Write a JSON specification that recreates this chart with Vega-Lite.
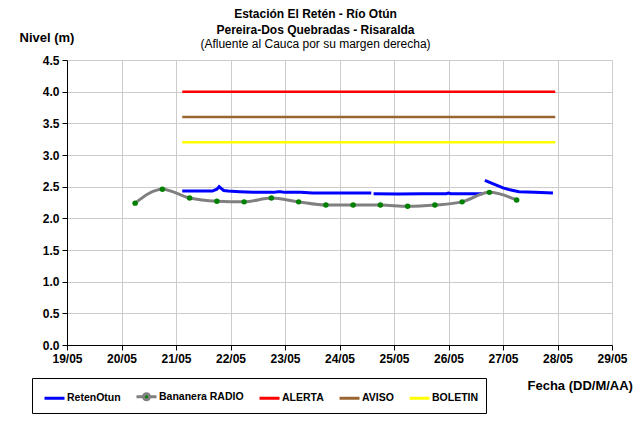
{
  "$schema": "https://vega.github.io/schema/vega-lite/v6.json",
  "width": 545,
  "height": 285,
  "autosize": {"type": "none"},
  "padding": {"left": 67, "top": 60, "right": 29, "bottom": 77},
  "background": "white",
  "title": {
    "text": ["Estación El Retén - Río Otún", "Pereira-Dos Quebradas - Risaralda"],
    "subtitle": "(Afluente al Cauca por su margen derecha)",
    "anchor": "middle",
    "dx": -24,
    "offset": -20,
    "font": "Liberation Sans",
    "fontSize": 12,
    "fontWeight": "bold",
    "color": "black",
    "lineHeight": 16,
    "subtitleFont": "Liberation Sans",
    "subtitleFontSize": 12,
    "subtitleFontWeight": "normal",
    "subtitleColor": "black",
    "subtitleLineHeight": 16,
    "subtitlePadding": 2
  },
  "data": {
    "values": [
      {"serie": "ALERTA", "seg": "a", "fecha": "2010-05-21T02:45", "nivel": 4.0},
      {"serie": "ALERTA", "seg": "a", "fecha": "2010-05-27T23:00", "nivel": 4.0},
      {"serie": "AVISO", "seg": "v", "fecha": "2010-05-21T02:45", "nivel": 3.6},
      {"serie": "AVISO", "seg": "v", "fecha": "2010-05-27T23:00", "nivel": 3.6},
      {"serie": "BOLETIN", "seg": "bo", "fecha": "2010-05-21T02:45", "nivel": 3.2},
      {"serie": "BOLETIN", "seg": "bo", "fecha": "2010-05-27T23:00", "nivel": 3.2},

      {"serie": "RetenOtun", "seg": "r1", "fecha": "2010-05-21T02:45", "nivel": 2.43},
      {"serie": "RetenOtun", "seg": "r1", "fecha": "2010-05-21T08:00", "nivel": 2.43},
      {"serie": "RetenOtun", "seg": "r1", "fecha": "2010-05-21T12:00", "nivel": 2.43},
      {"serie": "RetenOtun", "seg": "r1", "fecha": "2010-05-21T16:00", "nivel": 2.43},
      {"serie": "RetenOtun", "seg": "r1", "fecha": "2010-05-21T18:00", "nivel": 2.46},
      {"serie": "RetenOtun", "seg": "r1", "fecha": "2010-05-21T19:00", "nivel": 2.50},
      {"serie": "RetenOtun", "seg": "r1", "fecha": "2010-05-21T20:00", "nivel": 2.47},
      {"serie": "RetenOtun", "seg": "r1", "fecha": "2010-05-21T21:00", "nivel": 2.44},
      {"serie": "RetenOtun", "seg": "r1", "fecha": "2010-05-21T23:00", "nivel": 2.43},
      {"serie": "RetenOtun", "seg": "r1", "fecha": "2010-05-22T04:00", "nivel": 2.42},
      {"serie": "RetenOtun", "seg": "r1", "fecha": "2010-05-22T10:00", "nivel": 2.41},
      {"serie": "RetenOtun", "seg": "r1", "fecha": "2010-05-22T14:00", "nivel": 2.41},
      {"serie": "RetenOtun", "seg": "r1", "fecha": "2010-05-22T19:00", "nivel": 2.41},
      {"serie": "RetenOtun", "seg": "r1", "fecha": "2010-05-22T21:00", "nivel": 2.42},
      {"serie": "RetenOtun", "seg": "r1", "fecha": "2010-05-22T22:00", "nivel": 2.42},
      {"serie": "RetenOtun", "seg": "r1", "fecha": "2010-05-23T00:00", "nivel": 2.41},
      {"serie": "RetenOtun", "seg": "r1", "fecha": "2010-05-23T07:00", "nivel": 2.41},
      {"serie": "RetenOtun", "seg": "r1", "fecha": "2010-05-23T12:00", "nivel": 2.40},
      {"serie": "RetenOtun", "seg": "r1", "fecha": "2010-05-24T00:00", "nivel": 2.40},
      {"serie": "RetenOtun", "seg": "r1", "fecha": "2010-05-24T14:00", "nivel": 2.40},
      {"serie": "RetenOtun", "seg": "r2", "fecha": "2010-05-24T15:00", "nivel": 2.39},
      {"serie": "RetenOtun", "seg": "r2", "fecha": "2010-05-25T02:00", "nivel": 2.385},
      {"serie": "RetenOtun", "seg": "r2", "fecha": "2010-05-25T12:00", "nivel": 2.39},
      {"serie": "RetenOtun", "seg": "r2", "fecha": "2010-05-25T23:00", "nivel": 2.39},
      {"serie": "RetenOtun", "seg": "r2", "fecha": "2010-05-26T00:00", "nivel": 2.40},
      {"serie": "RetenOtun", "seg": "r2", "fecha": "2010-05-26T01:00", "nivel": 2.39},
      {"serie": "RetenOtun", "seg": "r2", "fecha": "2010-05-26T15:00", "nivel": 2.39},
      {"serie": "RetenOtun", "seg": "r3", "fecha": "2010-05-26T16:00", "nivel": 2.60},
      {"serie": "RetenOtun", "seg": "r3", "fecha": "2010-05-26T20:00", "nivel": 2.54},
      {"serie": "RetenOtun", "seg": "r3", "fecha": "2010-05-27T00:00", "nivel": 2.48},
      {"serie": "RetenOtun", "seg": "r3", "fecha": "2010-05-27T03:00", "nivel": 2.45},
      {"serie": "RetenOtun", "seg": "r3", "fecha": "2010-05-27T07:00", "nivel": 2.42},
      {"serie": "RetenOtun", "seg": "r3", "fecha": "2010-05-27T14:00", "nivel": 2.41},
      {"serie": "RetenOtun", "seg": "r3", "fecha": "2010-05-27T22:00", "nivel": 2.40},

      {"serie": "Bananera RADIO", "seg": "b", "fecha": "2010-05-20T06:00", "nivel": 2.24},
      {"serie": "Bananera RADIO", "seg": "b", "fecha": "2010-05-20T18:00", "nivel": 2.46},
      {"serie": "Bananera RADIO", "seg": "b", "fecha": "2010-05-21T06:00", "nivel": 2.32},
      {"serie": "Bananera RADIO", "seg": "b", "fecha": "2010-05-21T18:00", "nivel": 2.27},
      {"serie": "Bananera RADIO", "seg": "b", "fecha": "2010-05-22T06:00", "nivel": 2.26},
      {"serie": "Bananera RADIO", "seg": "b", "fecha": "2010-05-22T18:00", "nivel": 2.32},
      {"serie": "Bananera RADIO", "seg": "b", "fecha": "2010-05-23T06:00", "nivel": 2.26},
      {"serie": "Bananera RADIO", "seg": "b", "fecha": "2010-05-23T18:00", "nivel": 2.21},
      {"serie": "Bananera RADIO", "seg": "b", "fecha": "2010-05-24T06:00", "nivel": 2.21},
      {"serie": "Bananera RADIO", "seg": "b", "fecha": "2010-05-24T18:00", "nivel": 2.21},
      {"serie": "Bananera RADIO", "seg": "b", "fecha": "2010-05-25T06:00", "nivel": 2.19},
      {"serie": "Bananera RADIO", "seg": "b", "fecha": "2010-05-25T18:00", "nivel": 2.21},
      {"serie": "Bananera RADIO", "seg": "b", "fecha": "2010-05-26T06:00", "nivel": 2.26},
      {"serie": "Bananera RADIO", "seg": "b", "fecha": "2010-05-26T18:00", "nivel": 2.41},
      {"serie": "Bananera RADIO", "seg": "b", "fecha": "2010-05-27T06:00", "nivel": 2.29}
    ]
  },
  "encoding": {
    "x": {
      "field": "fecha",
      "type": "temporal",
      "scale": {"domain": [{"year": 2010, "month": "May", "date": 19}, {"year": 2010, "month": "May", "date": 29}]},
      "axis": {
        "format": "%d/%m",
        "tickCount": {"interval": "day", "step": 1},
        "title": "Fecha (DD/M/AA)",
        "titleX": 460,
        "titleY": 40,
        "titleAlign": "left",
        "titleBaseline": "middle",
        "titleAngle": 0
      }
    },
    "y": {
      "field": "nivel",
      "type": "quantitative",
      "scale": {"domain": [0, 4.5]},
      "axis": {
        "values": [0, 0.5, 1, 1.5, 2, 2.5, 3, 3.5, 4, 4.5],
        "format": ".1f",
        "title": "Nivel (m)",
        "titleAngle": 0,
        "titleX": -48,
        "titleY": -23,
        "titleAlign": "left",
        "titleBaseline": "middle"
      }
    }
  },
  "layer": [
    {
      "transform": [{"filter": "datum.serie === 'ALERTA' || datum.serie === 'AVISO' || datum.serie === 'BOLETIN'"}],
      "mark": {"type": "line", "strokeWidth": 2.5},
      "encoding": {
        "color": {
          "field": "serie",
          "type": "nominal",
          "scale": {
            "domain": ["RetenOtun", "Bananera RADIO", "ALERTA", "AVISO", "BOLETIN"],
            "range": ["#0000ff", "#808080", "#ff0000", "#996633", "#ffff00"]
          },
          "sort": ["RetenOtun", "Bananera RADIO", "ALERTA", "AVISO", "BOLETIN"],
          "legend": {
            "title": null,
            "orient": "none",
            "legendX": -35,
            "legendY": 318,
            "direction": "horizontal",
            "columns": 5,
            "gridAlign": "each",
            "columnPadding": 9,
            "padding": 7,
            "symbolOffset": 4,
            "strokeColor": "#000000",
            "fillColor": "white",
            "symbolType": "stroke",
            "symbolSize": 400,
            "symbolStrokeWidth": 3,
            "labelFont": "Liberation Sans",
            "labelFontSize": 10.5,
            "labelFontWeight": "bold",
            "labelColor": "black",
            "labelOffset": 1,
            "encode": {
              "symbols": {
                "update": {
                  "shape": {"signal": "datum.value === 'Bananera RADIO' ? 'M-1,0H-0.3M0.3,0H1M-0.3,0A0.3,0.3,0,1,1,0.3,0A0.3,0.3,0,1,1,-0.3,0Z' : 'stroke'"},
                  "fill": {"signal": "datum.value === 'Bananera RADIO' ? '#008000' : 'transparent'"}
                }
              }
            }
          }
        },
        "detail": {"field": "seg"}
      }
    },
    {
      "transform": [{"filter": "datum.serie === 'RetenOtun'"}],
      "mark": {"type": "line", "strokeWidth": 3},
      "encoding": {
        "color": {"field": "serie", "type": "nominal"},
        "detail": {"field": "seg"}
      }
    },
    {
      "transform": [{"filter": "datum.serie === 'Bananera RADIO'"}],
      "mark": {"type": "line", "strokeWidth": 3, "interpolate": "monotone"},
      "encoding": {
        "color": {"field": "serie", "type": "nominal"},
        "detail": {"field": "seg"}
      }
    },
    {
      "transform": [{"filter": "datum.serie === 'Bananera RADIO'"}],
      "mark": {"type": "point", "filled": true, "size": 30, "opacity": 1, "color": "#008000"},
      "encoding": {}
    }
  ],
  "config": {
    "font": "Liberation Sans",
    "view": {"stroke": null},
    "axis": {
      "grid": true,
      "gridColor": "#cccccc",
      "gridWidth": 1,
      "domainColor": "#000000",
      "domainWidth": 1,
      "tickColor": "#000000",
      "tickSize": 5,
      "labelColor": "#000000",
      "labelFont": "Liberation Sans",
      "labelFontSize": 12,
      "labelFontWeight": "bold",
      "titleColor": "#000000",
      "titleFont": "Liberation Sans",
      "titleFontSize": 13,
      "titleFontWeight": "bold"
    },
    "axisX": {"labelPadding": 3, "labelFlush": false, "labelOverlap": false},
    "axisY": {"labelPadding": 3}
  }
}
